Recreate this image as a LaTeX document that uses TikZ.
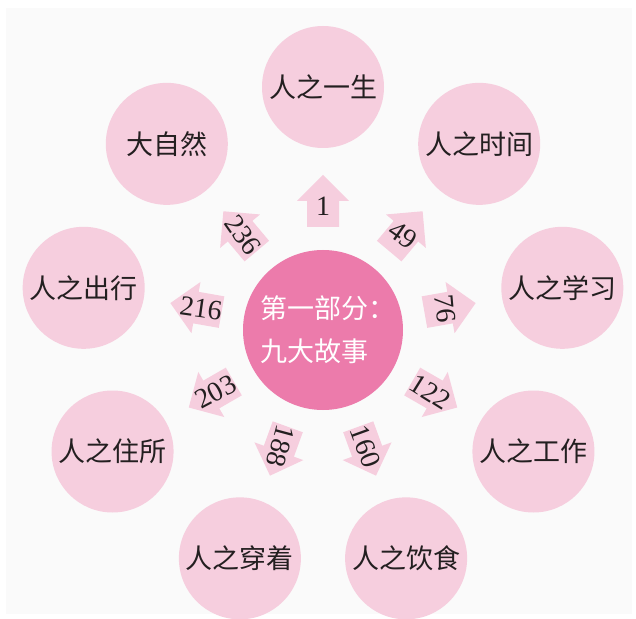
\documentclass[tikz,border=0pt]{standalone}
\usepackage{fontspec}
\setmainfont{Liberation Serif}
\newfontfamily\cjk{Noto Sans CJK SC}
\usetikzlibrary{
  positioning,
}
\definecolor{palepink}{RGB}{246,206,222}
\definecolor{deeppink}{RGB}{236,123,171}
\definecolor{inkblack}{RGB}{35,31,32}

\begin{document}
\begin{tikzpicture}[x=1pt,y=1pt]
\useasboundingbox (-323,-288) rectangle (313,330);
\fill[white] (-323,-288) rectangle (313,330);
\fill[black!2] (-317,-284) rectangle (309,322);

\tikzset{
  story/.style={
    circle,
    fill=palepink,
    minimum size=122pt,
    inner sep=0pt,
    text=inkblack,
    font=\cjk\fontsize{27}{32}\selectfont,
  },
  part/.style={
    circle,
    fill=deeppink,
    minimum size=154pt,
    inner sep=0pt,
    text=white,
    align=left,
    font=\cjk\fontsize{27}{43}\selectfont,
  },
  page arrow/.style={
    fill=palepink,
  },
  page/.style={
    inner sep=0pt,
    text=inkblack,
    font=\fontsize{28}{28}\selectfont,
  },
}

\node[part] (part) at (0,0) {\hspace*{10pt}第一部分：\\\hspace*{10pt}九大故事};

\foreach[count=\k] \a/\txt/\n/\r in {
  90/人之一生/1/0,
  50/人之时间/49/-35,
  10/人之学习/76/-85,
  -30/人之工作/122/-32,
  -70/人之饮食/160/-70,
  -110/人之穿着/188/-105,
  -150/人之住所/203/28,
  170/人之出行/216/-8,
  130/大自然/236/-55%
} {
  \node[story] (story \k) at (\a:243) {\txt};
  \fill[page arrow, rotate=\a]
    (103,-16) -- (129,-16) -- (129,-26) -- (155,0)
    -- (129,26) -- (129,16) -- (103,16) -- cycle;
  \node[page, rotate=\r] (page \k) at (\a:124) {\n};
}
\end{tikzpicture}
\end{document}
